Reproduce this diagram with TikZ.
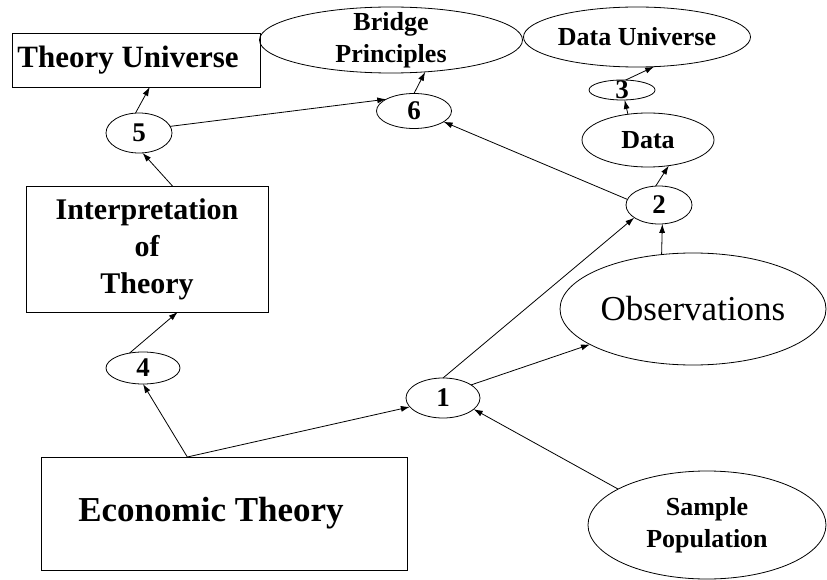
\documentclass[tikz,border=0pt]{standalone}
\usepackage{fontspec}
\setmainfont{Liberation Serif}
\usetikzlibrary{shapes.geometric,arrows.meta}

\begin{document}
\begin{tikzpicture}[x=1pt, y=-1pt, line width=0.8pt, >={Latex[length=9pt,width=6pt]},
    box/.style={draw, rectangle, inner sep=0pt, outer sep=0pt, align=center},
    oval/.style={draw, ellipse, inner sep=-30pt, outer sep=0pt, align=center},
    num/.style={oval, font=\fontsize{27}{27}\selectfont\bfseries}]

  \useasboundingbox (0,0) rectangle (827,580);

	%boxes
    \node[box, minimum width=248, minimum height=54, font=\fontsize{31}{31}\selectfont\bfseries] (tu) at (136,60) {Theory Universe\hspace*{16pt}};
    \node[box, minimum width=242, minimum height=126, font=\fontsize{30}{37}\selectfont\bfseries] (ip) at (147,249) {Interpretation\\of\\Theory};
    \node[box, minimum width=366, minimum height=113, font=\fontsize{35}{35}\selectfont\bfseries] (et) at (224,513.5) {Economic Theory\hspace*{26pt}};

	%ovals
    \node[oval, minimum width=263, minimum height=66, font=\fontsize{26}{32}\selectfont\bfseries] (bp) at (391,40) {Bridge\\Principles};
    \node[oval, minimum width=227, minimum height=60, font=\fontsize{26}{26}\selectfont\bfseries] (du) at (637,37) {Data Universe};
    \node[oval, minimum width=132, minimum height=54, font=\fontsize{26}{26}\selectfont\bfseries] (da) at (648,140) {Data};
    \node[oval, minimum width=266, minimum height=112, font=\fontsize{35}{35}\selectfont] (ob) at (693,309) {Observations};
    \node[oval, minimum width=238, minimum height=108, font=\fontsize{26}{32}\selectfont\bfseries] (sp) at (707,525) {Sample\\Population};

	%numbers
    \foreach \name/\num/\x/\y/\w/\h in {n1/1/443/398/74/40, n2/2/659/205/66/38, n3/3/622/90/66/20,
                                          n4/4/143/368/74/32, n5/5/139/133/66/40, n6/6/414/111/75/35}{
        \node[num, minimum width=\w, minimum height=\h] (\name) at (\x,\y) {\num};
    }

	%arrows
    \foreach \a/\b in {et.123/n4.south, et.123/n1.195, n4.132/ip.296, ip.68/n5.280, n5.100/tu.297,
                       n5.12/n6.157, n6.north/bp.317, n2.170/n6.340, n1.north/n2.207, n1.25/ob.199,
                       ob.120/n2.280, sp.158/n1.340, n2.100/da.309, da.128/n3.285, n3.70/du.300}{
        \draw[->] (\a) -- (\b);
    }

\end{tikzpicture}
\end{document}
